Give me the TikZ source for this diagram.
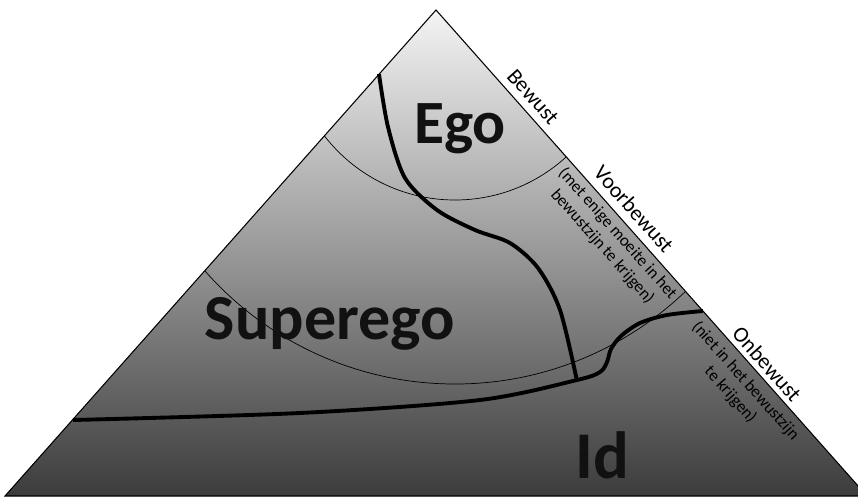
\documentclass[tikz,border=0pt]{standalone}
\usepackage{fontspec}
\setmainfont{Carlito}
\definecolor{pyrtop}{HTML}{F4F4F4}
\definecolor{pyrmid}{HTML}{A2A2A2}
\definecolor{pyrbot}{HTML}{3C3C3C}
\definecolor{inkcol}{HTML}{111111}

\begin{document}
\begin{tikzpicture}[x=.02cm,y=-.02cm,
	layer/.style={font=\fontsize{12.5}{14}\selectfont,rotate=-48.4,inner sep=0pt},
	note/.style={font=\fontsize{9.6}{11.5}\selectfont,rotate=-48.4,align=center,inner sep=0pt},
	part/.style={font=\bfseries\fontsize{#1}{40}\selectfont,text=inkcol,anchor=base,inner sep=0pt},
	part/.default=35]
\useasboundingbox (0,0) rectangle (858,498);
\clip (0,0) rectangle (858,498);
\coordinate (apex) at (436,10);
\coordinate (bl) at (5,496);
\coordinate (br) at (867,496);
\shade[top color=pyrtop,middle color=pyrmid,bottom color=pyrbot] (apex) -- (bl) -- (br) -- cycle;
\begin{scope}
	\clip (apex) -- (bl) -- (br) -- cycle;
	\foreach \cy/\r in {35/165,51/333}
		\draw[line width=.4pt] (455,\cy) circle (\r);
\end{scope}
\draw[line width=2.2pt] plot[smooth] coordinates {(379,74) (388,127) (405,178) (437,210) (475,230) (510,243) (538,268) (560,310) (577,381)};
\draw[line width=2.2pt] plot[smooth] coordinates {(73,420) (300,413) (480,400) (577,380) (600,372) (607,362) (611,349) (621,336) (640,323) (667,315) (703,311)};
\draw[line width=.6pt] (apex) -- (bl) -- (br) -- cycle;
\node[layer] (bewust) at (533,97) {Bewust};
\node[layer] (voorbewust) at (634,209) {Voorbewust};
\node[note] (voorbewust-note) at (610,240) {(met enige moeite in het\\bewustzijn te krijgen)};
\node[layer] (onbewust) at (767,364) {Onbewust};
\node[note] (onbewust-note) at (738,388) {(niet in het bewustzijn\\te krijgen)};
\node[part] (ego) at (460,143) {Ego};
\node[part=36.5] (superego) at (330,339) {Superego};
\node[part=38] (id) at (602,478) {Id};
\end{tikzpicture}
\end{document}
